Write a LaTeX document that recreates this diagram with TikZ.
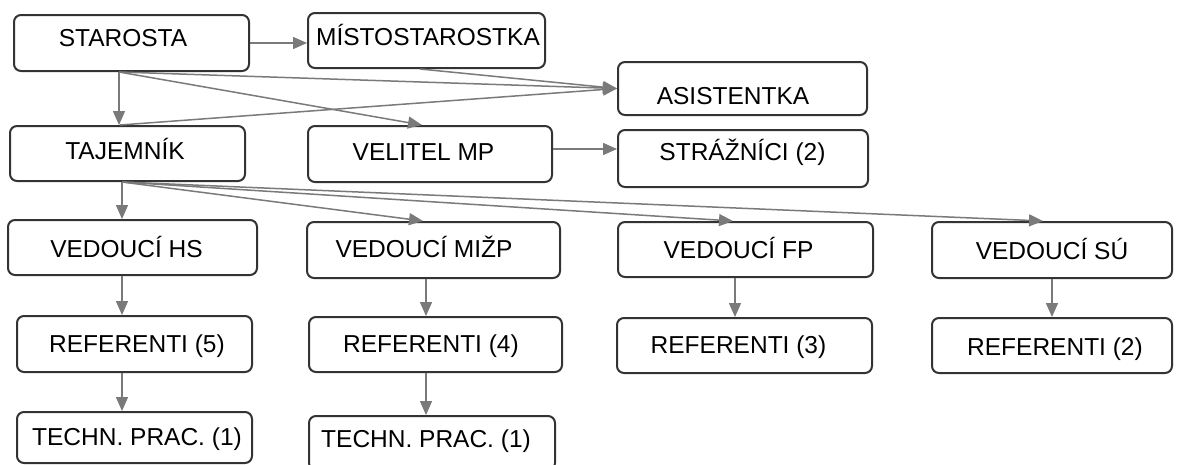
\documentclass[tikz,border=0pt]{standalone}
\usepackage{fontspec}
\setmainfont{Liberation Sans}
\usetikzlibrary{arrows.meta}
\definecolor{boxline}{HTML}{333333}
\definecolor{conncol}{HTML}{7A7A7A}
\begin{document}
\begin{tikzpicture}[x=1pt,y=-1pt,
  box/.style={draw=boxline,line width=2pt,rounded corners=7pt,inner sep=0pt,fill=white},
  txt/.style={anchor=base,inner sep=0pt,font=\fontsize{24.5}{28}\selectfont,text=black},
  conn/.style={draw=conncol,line width=1.5pt,-{Triangle[length=14pt,width=12pt,fill=conncol]}}]
\useasboundingbox (0,0) rectangle (1179,464);
\fill[white] (0,0) rectangle (1179,464);
\node[box,minimum width=235pt,minimum height=56pt] (staro) at (131.5,43) {};
\node[box,minimum width=237pt,minimum height=55pt] (misto) at (426.5,40.5) {};
\node[box,minimum width=249pt,minimum height=53pt] (asist) at (742.5,88.5) {};
\node[box,minimum width=235pt,minimum height=55pt] (taj) at (127.5,153.5) {};
\node[box,minimum width=244pt,minimum height=56pt] (vel) at (430,154) {};
\node[box,minimum width=250pt,minimum height=57pt] (straz) at (743,158.5) {};
\node[box,minimum width=249pt,minimum height=55pt] (hs) at (132.5,247.5) {};
\node[box,minimum width=253pt,minimum height=56pt] (mizp) at (433.5,250) {};
\node[box,minimum width=255pt,minimum height=55pt] (fp) at (745.5,249.5) {};
\node[box,minimum width=240pt,minimum height=56pt] (su) at (1052,250) {};
\node[box,minimum width=235pt,minimum height=56pt] (ref5) at (134.5,344) {};
\node[box,minimum width=253pt,minimum height=55pt] (ref4) at (435.5,344.5) {};
\node[box,minimum width=255pt,minimum height=55pt] (ref3) at (744.5,345.5) {};
\node[box,minimum width=240pt,minimum height=55pt] (ref2) at (1052,345.5) {};
\node[box,minimum width=235pt,minimum height=51pt] (tech1) at (134.5,437.5) {};
\node[box,minimum width=246pt,minimum height=54pt] (tech2) at (432,443) {};
% texts
\node[txt] (staro-t) at (123,46) {STAROSTA};
\node[txt] (misto-t) at (428,45) {MÍSTOSTAROSTKA};
\node[txt] (asist-t) at (733,104) {ASISTENTKA};
\node[txt] (taj-t) at (125,159) {TAJEMNÍK};
\node[txt] (vel-t) at (423.5,160) {VELITEL MP};
\node[txt] (straz-t) at (742.5,160) {STRÁŽNÍCI (2)};
\node[txt] (hs-t) at (126.5,257) {VEDOUCÍ HS};
\node[txt] (mizp-t) at (424,257) {VEDOUCÍ MIŽP};
\node[txt] (fp-t) at (738.5,258) {VEDOUCÍ FP};
\node[txt] (su-t) at (1052,259) {VEDOUCÍ SÚ};
\node[txt] (ref5-t) at (137,352) {REFERENTI (5)};
\node[txt] (ref4-t) at (431,352) {REFERENTI (4)};
\node[txt] (ref3-t) at (738.5,353) {REFERENTI (3)};
\node[txt] (ref2-t) at (1055,355) {REFERENTI (2)};
\node[txt] (tech1-t) at (137,445) {TECHN. PRAC. (1)};
\node[txt] (tech2-t) at (426,447) {TECHN. PRAC. (1)};
% connectors
\draw[conn] (staro.east) -- (staro.east -| misto.west);
\draw[conn] ([xshift=-12.5pt]staro.south) -- ([xshift=-12.5pt]staro.south |- taj.north);
\draw[conn] ([xshift=-12.5pt]staro.south) -- (asist.west);
\draw[conn] ([xshift=-6.5pt]misto.south) -- (asist.west);
\draw[conn] ([xshift=-7.5pt]taj.north) -- (asist.west);
\draw[conn] ([xshift=-12.5pt]staro.south) -- ([xshift=-8pt]vel.north);
\draw[conn] ([yshift=5pt]vel.east) -- ([yshift=5pt]vel.east -| straz.west);
\draw[conn] ([xshift=-5.5pt]taj.south) -- ([xshift=-5.5pt]taj.south |- hs.north);
\draw[conn] ([xshift=-5.5pt]taj.south) -- ([xshift=-10.5pt]mizp.north);
\draw[conn] ([xshift=-5.5pt]taj.south) -- ([xshift=-12.5pt]fp.north);
\draw[conn] ([xshift=-5.5pt]taj.south) -- ([xshift=-9pt]su.north);
\draw[conn] ([xshift=-10.5pt]hs.south) -- ([xshift=-10.5pt]hs.south |- ref5.north);
\draw[conn] ([xshift=-12.5pt]ref5.south) -- ([xshift=-12.5pt]ref5.south |- tech1.north);
\draw[conn] ([xshift=-7.5pt]mizp.south) -- ([xshift=-7.5pt]mizp.south |- ref4.north);
\draw[conn] ([xshift=-9.5pt]ref4.south) -- ([xshift=-9.5pt]ref4.south |- tech2.north);
\draw[conn] ([xshift=-10.5pt]fp.south) -- ([xshift=-10.5pt]fp.south |- ref3.north);
\draw[conn] (su.south) -- (su.south |- ref2.north);
\end{tikzpicture}
\end{document}
